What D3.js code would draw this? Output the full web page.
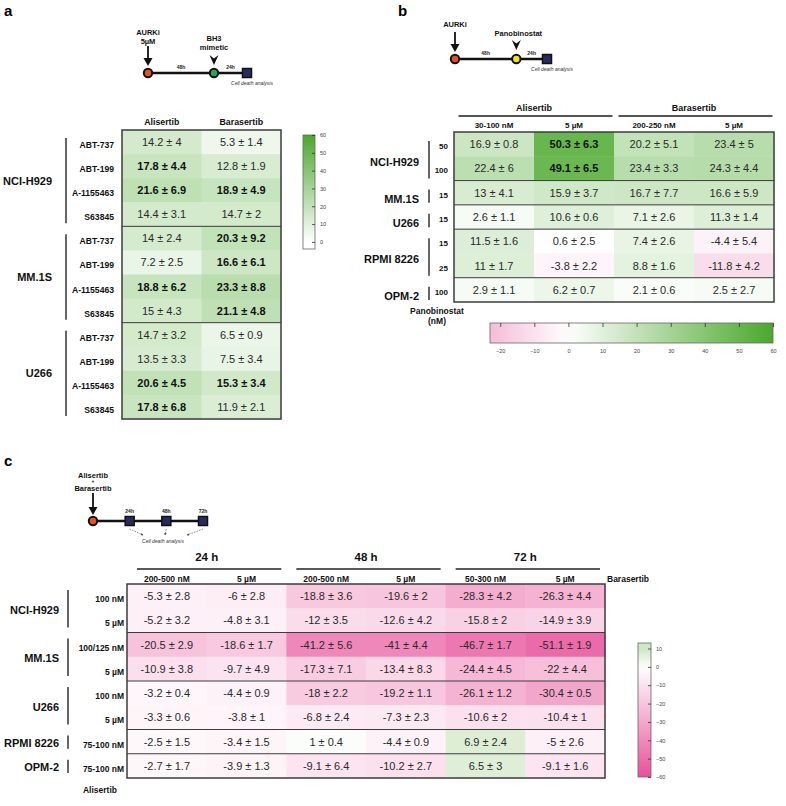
<!DOCTYPE html>
<html>
<head>
<meta charset="utf-8">
<script src="https://cdnjs.cloudflare.com/ajax/libs/d3/7.8.5/d3.min.js"></script>
<style>
body{margin:0;background:#fff;}
svg{display:block;font-family:"Liberation Sans",Arial,sans-serif;}
</style>
</head>
<body>
<div id="chart"></div>
<script>
'use strict';
// ---- panel a : AURKi 48h then BH3 mimetic 24h ----
var aCellLines = ["NCI-H929", "MM.1S", "U266"];
var aRowGroup = [0,0,0,0, 1,1,1,1, 2,2,2,2];
var aRowLabels = ["ABT-737","ABT-199","A-1155463","S63845",
                  "ABT-737","ABT-199","A-1155463","S63845",
                  "ABT-737","ABT-199","A-1155463","S63845"];
var aColumns = ["Alisertib", "Barasertib"];
var aMean = [
    [14.2, 5.3], [17.8, 12.8], [21.6, 18.9], [14.4, 14.7],
    [14, 20.3], [7.2, 16.6], [18.8, 23.3], [15, 21.1],
    [14.7, 6.5], [13.5, 7.5], [20.6, 15.3], [17.8, 11.9]
];
var aSd = [
    [4, 1.4], [4.4, 1.9], [6.9, 4.9], [3.1, 2],
    [2.4, 9.2], [2.5, 6.1], [6.2, 8.8], [4.3, 4.8],
    [3.2, 0.9], [3.3, 3.4], [4.5, 3.4], [6.8, 2.1]
];
var aBold = [[1,0],[2,0],[2,1],[4,1],[5,1],[6,0],[6,1],[7,1],[10,0],[10,1],[11,0]];
var aBarTicks = [0,10,20,30,40,50,60];
var aTimeline = [0, 48, 72];
var aSegmentLabels = ["48h", "24h"];

// ---- panel b : AURKi 48h then panobinostat 24h ----
var bCellLines = ["NCI-H929", "MM.1S", "U266", "RPMI 8226", "OPM-2"];
var bRowGroup = [0,0,1,2,3,3,4];
var bRowLabels = ["50","100","15","15","15","25","100"];
var bDrugs = ["Alisertib", "Barasertib"];
var bDoses = ["30-100 nM", "5 \u00b5M", "200-250 nM", "5 \u00b5M"];
var bMean = [
    [16.9, 50.3, 20.2, 23.4],
    [22.4, 49.1, 23.4, 24.3],
    [13, 15.9, 16.7, 16.6],
    [2.6, 10.6, 7.1, 11.3],
    [11.5, 0.6, 7.4, -4.4],
    [11, -3.8, 8.8, -11.8],
    [2.9, 6.2, 2.1, 2.5]
];
var bSd = [
    [0.8, 6.3, 5.1, 5],
    [6, 6.5, 3.3, 4.4],
    [4.1, 3.7, 7.7, 5.9],
    [1.1, 0.6, 2.6, 1.4],
    [1.6, 2.5, 2.6, 5.4],
    [1.7, 2.2, 1.6, 4.2],
    [1.1, 0.7, 0.6, 2.7]
];
var bBold = [[0,1],[1,1]];
var bBarTicks = [-20,-10,0,10,20,30,40,50,60];
var bTimeline = [0, 48, 72];
var bSegmentLabels = ["48h", "24h"];

// ---- panel c : alisertib + barasertib, 24/48/72h ----
var cCellLines = ["NCI-H929", "MM.1S", "U266", "RPMI 8226", "OPM-2"];
var cRowGroup = [0,0,1,1,2,2,3,4];
var cRowLabels = ["100 nM","5 \u00b5M","100/125 nM","5 \u00b5M","100 nM","5 \u00b5M","75-100 nM","75-100 nM"];
var cTimes = ["24 h", "48 h", "72 h"];
var cDoses = ["200-500 nM", "5 \u00b5M", "200-500 nM", "5 \u00b5M", "50-300 nM", "5 \u00b5M"];
var cMean = [
    [-5.3, -6, -18.8, -19.6, -28.3, -26.3],
    [-5.2, -4.8, -12, -12.6, -15.8, -14.9],
    [-20.5, -18.6, -41.2, -41, -46.7, -51.1],
    [-10.9, -9.7, -17.3, -13.4, -24.4, -22],
    [-3.2, -4.4, -18, -19.2, -26.1, -30.4],
    [-3.3, -3.8, -6.8, -7.3, -10.6, -10.4],
    [-2.5, -3.4, 1, -4.4, 6.9, -5],
    [-2.7, -3.9, -9.1, -10.2, 6.5, -9.1]
];
var cSd = [
    [2.8, 2.8, 3.6, 2, 4.2, 4.4],
    [3.2, 3.1, 3.5, 4.2, 2, 3.9],
    [2.9, 1.7, 5.6, 4.4, 1.7, 1.9],
    [3.8, 4.9, 7.1, 8.3, 4.5, 4.4],
    [0.4, 0.9, 2.2, 1.1, 1.2, 0.5],
    [0.6, 1, 2.4, 2.3, 2, 1],
    [1.5, 1.5, 0.4, 0.9, 2.4, 2.6],
    [1.7, 1.3, 6.4, 2.7, 3, 1.6]
];
var cBarTicks = [10,0,-10,-20,-30,-40,-50,-60];
var cTimeline = [0, 24, 48, 72];
var cPointLabels = ["24h", "48h", "72h"];

var green = "#4aa82c", pink = "#e8509a";
var aColor = d3.scaleLinear().domain([0, 60]).range(["#ffffff", green]).clamp(true);
var bColor = d3.scaleLinear().domain([-60, 0, 60]).range([pink, "#ffffff", green]).clamp(true);
var cColor = d3.scaleLinear().domain([-60, 0, 10]).range([pink, "#ffffff", "#cde6c2"]).clamp(true);

var svg = d3.select("#chart").append("svg")
    .attr("width", 786)
    .attr("height", 806);

function addText(g, x, y, txt, size, weight, anchor, fill, style){
    return g.append("text")
        .attr("x", x).attr("y", y)
        .attr("text-anchor", anchor || "middle")
        .style("font-size", size + "px")
        .style("font-weight", weight || "normal")
        .style("font-style", style || "normal")
        .attr("fill", fill || "#111")
        .text(txt);
}

function isBold(list, r, c){
    return list.some(function(p){ return p[0] === r && p[1] === c; });
}

function drawTable(g, o){
    var nRows = o.mean.length, nCols = o.mean[0].length;
    var x = d3.scaleBand().domain(d3.range(nCols)).range([o.left, o.right]);
    var y = d3.scaleBand().domain(d3.range(nRows)).range([o.top, o.bottom]);
    var cells = [];
    o.mean.forEach(function(row, i){
        row.forEach(function(m, j){
            cells.push({r: i, c: j, m: m, s: o.sd[i][j], b: isBold(o.bold, i, j)});
        });
    });
    g.selectAll(null).data(cells).enter().append("rect")
        .attr("x", function(d){ return x(d.c); })
        .attr("y", function(d){ return y(d.r); })
        .attr("width", x.bandwidth() + 0.5)
        .attr("height", y.bandwidth() + 0.5)
        .attr("fill", function(d){ return o.color(d.m); });
    g.selectAll(null).data(cells).enter().append("text")
        .attr("x", function(d){ return x(d.c) + x.bandwidth() / 2; })
        .attr("y", function(d){ return y(d.r) + y.bandwidth() / 2 + 4; })
        .attr("text-anchor", "middle")
        .style("font-size", "11px")
        .style("font-weight", function(d){ return d.b ? "bold" : "normal"; })
        .attr("fill", function(d){ return d.b ? "#111" : "#2a2a2a"; })
        .text(function(d){ return d.m + " \u00b1 " + d.s; });

    // lines between cell lines
    var seps = d3.range(1, nRows).filter(function(i){ return o.rowGroup[i] !== o.rowGroup[i - 1]; });
    g.selectAll(null).data(seps).enter().append("line")
        .attr("x1", o.left).attr("x2", o.right)
        .attr("y1", function(i){ return y(i); })
        .attr("y2", function(i){ return y(i); })
        .attr("stroke", "#3c3c3c").attr("stroke-width", 1);
    g.append("rect")
        .attr("x", o.left).attr("y", o.top)
        .attr("width", o.right - o.left).attr("height", o.bottom - o.top)
        .attr("fill", "none").attr("stroke", "#3c3c3c").attr("stroke-width", 1.5);

    g.selectAll(null).data(o.rowLabels).enter().append("text")
        .attr("x", o.rowLabelX)
        .attr("y", function(d, i){ return y(i) + y.bandwidth() / 2 + o.rowLabelDy; })
        .attr("text-anchor", "end")
        .style("font-size", o.rowLabelSize + "px")
        .style("font-weight", "bold")
        .attr("fill", "#111")
        .text(function(d){ return d; });

    var groups = o.groupNames.map(function(name, k){
        var idx = d3.range(nRows).filter(function(i){ return o.rowGroup[i] === k; });
        return {name: name, y0: y(idx[0]), y1: y(idx[idx.length - 1]) + y.bandwidth()};
    });
    g.selectAll(null).data(groups).enter().append("line")
        .attr("x1", o.bracketX).attr("x2", o.bracketX)
        .attr("y1", function(d){ return d.y0 + o.bracketIn[0]; })
        .attr("y2", function(d){ return d.y1 - o.bracketIn[1]; })
        .attr("stroke", "#333").attr("stroke-width", 1.5);
    g.selectAll(null).data(groups).enter().append("text")
        .attr("x", o.groupLabelX)
        .attr("y", function(d){ return (d.y0 + d.y1) / 2 + o.groupDy; })
        .attr("text-anchor", "end")
        .style("font-size", "11px")
        .style("font-weight", "bold")
        .attr("fill", "#111")
        .text(function(d){ return d.name; });
    return x;
}

function drawColorbar(g, o){
    var id = "grad" + o.id;
    var dom = o.scale.domain();
    var grad = svg.append("defs").append("linearGradient").attr("id", id);
    if(o.vertical){
        grad.attr("x1", 0).attr("y1", 1).attr("x2", 0).attr("y2", 0);
    }else{
        grad.attr("x1", 0).attr("y1", 0).attr("x2", 1).attr("y2", 0);
    }
    d3.range(0, 1.0001, 0.05).forEach(function(t){
        var v = dom[0] + t * (dom[1] - dom[0]);
        grad.append("stop").attr("offset", t).attr("stop-color", o.color(v));
    });
    g.append("rect")
        .attr("x", o.x).attr("y", o.y).attr("width", o.w).attr("height", o.h)
        .attr("fill", "url(#" + id + ")")
        .attr("stroke", "#666").attr("stroke-width", 0.8);
    var axis;
    if(o.vertical){
        axis = g.append("g")
            .attr("transform", "translate(" + (o.x + o.w) + ",0)")
            .call(d3.axisRight(o.scale).tickValues(o.ticks).tickSize(-3).tickPadding(5));
    }else{
        g.append("g")
            .attr("transform", "translate(0," + o.y + ")")
            .call(d3.axisTop(o.scale).tickValues(o.ticks).tickSize(-4).tickFormat(""))
            .select(".domain").remove();
        axis = g.append("g")
            .attr("transform", "translate(0," + (o.y + o.h) + ")")
            .call(d3.axisBottom(o.scale).tickValues(o.ticks).tickSize(0).tickPadding(6));
    }
    axis.select(".domain").remove();
    g.selectAll(".tick line").attr("stroke", "#333").attr("stroke-width", 0.8);
    axis.selectAll(".tick text").style("font-size", "5.5px").attr("fill", "#444")
        .style("font-family", "Liberation Sans, Arial, sans-serif");
}

function arrowDown(g, x, y0, y1){
    g.append("line").attr("x1", x).attr("x2", x).attr("y1", y0).attr("y2", y1 - 6)
        .attr("stroke", "#111").attr("stroke-width", 1.8);
    g.append("path").attr("d", "M" + (x - 4.5) + "," + (y1 - 8) + "L" + (x + 4.5) + "," + (y1 - 8) + "L" + x + "," + y1 + "Z")
        .attr("fill", "#111");
}
function chevron(g, x, y0, y1){
    g.append("path")
        .attr("d", "M" + (x - 4.5) + "," + y0 + "L" + x + "," + (y0 + 3.5) + "L" + (x + 4.5) + "," + y0 + "L" + x + "," + y1 + "Z")
        .attr("fill", "#111");
}
function marker(g, x, y, kind, fill){
    if(kind === "circle"){
        g.append("circle").attr("cx", x).attr("cy", y).attr("r", 4.2)
            .attr("fill", fill).attr("stroke", "#111").attr("stroke-width", 2);
    }else{
        g.append("rect").attr("x", x - 4.5).attr("y", y - 4.5).attr("width", 9).attr("height", 9)
            .attr("fill", "#2b2a5e").attr("stroke", "#111").attr("stroke-width", 1.5);
    }
}
function drawTwoStep(g, hours, segLabels, xs, y, midFill){
    g.append("line").attr("x1", xs(hours[0])).attr("x2", xs(hours[hours.length - 1]))
        .attr("y1", y).attr("y2", y).attr("stroke", "#111").attr("stroke-width", 2.5);
    segLabels.forEach(function(l, i){
        addText(g, (xs(hours[i]) + xs(hours[i + 1])) / 2, y - 4, l, 5, "bold", "middle", "#222");
    });
    marker(g, xs(hours[2]), y, "square");
    marker(g, xs(hours[0]), y, "circle", "#e4531f");
    marker(g, xs(hours[1]), y, "circle", midFill);
    addText(g, xs(hours[2]) + 5, y + 12, "Cell death analysis", 5, "normal", "middle", "#333", "italic");
}

// ================= panel a =================
var ga = svg.append("g");
addText(ga, 4, 16, "a", 15, "bold", "start", "#000");
var aX = d3.scaleLinear().domain([0, 72]).range([148, 247]);
drawTwoStep(ga, aTimeline, aSegmentLabels, aX, 73, "#27a35a");
addText(ga, aX(aTimeline[0]), 35, "AURKi", 7.5, "bold");
addText(ga, aX(aTimeline[0]), 44, "5\u00b5M", 7.5, "bold");
arrowDown(ga, aX(aTimeline[0]), 46, 66);
addText(ga, aX(aTimeline[1]), 41, "BH3", 7.5, "bold");
addText(ga, aX(aTimeline[1]), 50, "mimetic", 7.5, "bold");
chevron(ga, aX(aTimeline[1]), 55, 65);

var aColX = drawTable(ga, {
    left: 122, right: 281, top: 130, bottom: 419,
    mean: aMean, sd: aSd, bold: aBold, color: aColor,
    rowGroup: aRowGroup, rowLabels: aRowLabels, groupNames: aCellLines,
    rowLabelX: 114, rowLabelDy: 6, rowLabelSize: 8.6,
    bracketX: 66, bracketIn: [8, 3], groupLabelX: 52, groupDy: 6.5
});
aColumns.forEach(function(c, i){
    addText(ga, aColX(i) + aColX.bandwidth() / 2, 125, c, 8.8, "bold");
});
drawColorbar(ga, {
    id: "a", vertical: true, x: 303, y: 135, w: 12, h: 114,
    scale: d3.scaleLinear().domain([-4, 60]).range([249, 135]),
    color: aColor, ticks: aBarTicks
});

// ================= panel b =================
var gb = svg.append("g");
addText(gb, 398, 16, "b", 15, "bold", "start", "#000");
var bX = d3.scaleLinear().domain([0, 72]).range([455, 547]);
drawTwoStep(gb, bTimeline, bSegmentLabels, bX, 59, "#f2e318");
addText(gb, bX(bTimeline[0]), 27, "AURKi", 7.5, "bold");
arrowDown(gb, bX(bTimeline[0]), 32, 52);
addText(gb, bX(bTimeline[1]) + 2, 36, "Panobinostat", 7.5, "bold");
chevron(gb, bX(bTimeline[1]), 40, 50);

var bColX = drawTable(gb, {
    left: 454, right: 774, top: 132, bottom: 302,
    mean: bMean, sd: bSd, bold: bBold, color: bColor,
    rowGroup: bRowGroup, rowLabels: bRowLabels, groupNames: bCellLines,
    rowLabelX: 448, rowLabelDy: 5, rowLabelSize: 8,
    bracketX: 429, bracketIn: [9, 2], groupLabelX: 419, groupDy: 10
});
bDrugs.forEach(function(d, k){
    var x0 = bColX(k * 2), x1 = bColX(k * 2 + 1) + bColX.bandwidth();
    addText(gb, (x0 + x1) / 2, 111, d, 9, "bold");
    gb.append("line").attr("x1", x0 + 4.5).attr("x2", x1 - 1.5).attr("y1", 116).attr("y2", 116)
        .attr("stroke", "#555").attr("stroke-width", 2);
});
bDoses.forEach(function(d, i){
    addText(gb, bColX(i) + bColX.bandwidth() / 2, 128, d, 8, "bold");
});
addText(gb, 437, 314, "Panobinostat", 8.5, "bold");
addText(gb, 437, 324, "(nM)", 8.5, "bold");
drawColorbar(gb, {
    id: "b", vertical: false, x: 490, y: 323, w: 283, h: 20,
    scale: d3.scaleLinear().domain([-23, 60]).range([490, 773]),
    color: bColor, ticks: bBarTicks
});

// ================= panel c =================
var gc = svg.append("g");
addText(gc, 4, 466, "c", 15, "bold", "start", "#000");
var cX = d3.scaleLinear().domain([0, 72]).range([93, 203]);
var cY = 521;
gc.append("line").attr("x1", cX(cTimeline[0])).attr("x2", cX(cTimeline[cTimeline.length - 1]))
    .attr("y1", cY).attr("y2", cY).attr("stroke", "#111").attr("stroke-width", 2.5);
marker(gc, cX(cTimeline[0]), cY, "circle", "#e4531f");
var cTarget = {x: 163, y: 536};
gc.append("defs").append("marker").attr("id", "smallhead")
    .attr("viewBox", "0 0 6 6").attr("refX", 5).attr("refY", 3)
    .attr("markerWidth", 4).attr("markerHeight", 4).attr("orient", "auto")
    .append("path").attr("d", "M0,0L6,3L0,6Z").attr("fill", "#444");
cTimeline.slice(1).forEach(function(h, i){
    var px = cX(h);
    marker(gc, px, cY, "square");
    addText(gc, px, cY - 8, cPointLabels[i], 5, "bold", "middle", "#222");
    gc.append("line")
        .attr("x1", px).attr("y1", cY + 8)
        .attr("x2", px + (cTarget.x - px) * 0.4).attr("y2", cTarget.y - 1)
        .attr("stroke", "#444").attr("stroke-width", 0.6)
        .attr("stroke-dasharray", "1.5,1.2")
        .attr("marker-end", "url(#smallhead)");
});
addText(gc, cTarget.x, 543, "Cell death analysis", 5, "normal", "middle", "#333", "italic");
addText(gc, cX(cTimeline[0]), 477.5, "Alisertib", 7.5, "bold");
addText(gc, cX(cTimeline[0]), 483, "+", 5, "bold");
addText(gc, cX(cTimeline[0]), 491, "Barasertib", 7.5, "bold");
arrowDown(gc, cX(cTimeline[0]), 493, 515);

var cColX = drawTable(gc, {
    left: 127, right: 605, top: 584, bottom: 778,
    mean: cMean, sd: cSd, bold: [], color: cColor,
    rowGroup: cRowGroup, rowLabels: cRowLabels, groupNames: cCellLines,
    rowLabelX: 124, rowLabelDy: 6, rowLabelSize: 8.5,
    bracketX: 68, bracketIn: [6, 5], groupLabelX: 59, groupDy: 5.5
});
cTimes.forEach(function(t, k){
    var x0 = cColX(k * 2), x1 = cColX(k * 2 + 1) + cColX.bandwidth();
    addText(gc, (x0 + x1) / 2, 561, t, 11.5, "bold");
    gc.append("line").attr("x1", x0 + 10).attr("x2", x1 - 5).attr("y1", 569).attr("y2", 569)
        .attr("stroke", "#222").attr("stroke-width", 1.5);
});
cDoses.forEach(function(d, i){
    addText(gc, cColX(i) + cColX.bandwidth() / 2, 582, d, 8.5, "bold");
});
addText(gc, 607, 582, "Barasertib", 8.5, "bold", "start");
addText(gc, 100, 793, "Alisertib", 8.5, "bold");
drawColorbar(gc, {
    id: "c", vertical: true, x: 638, y: 643, w: 13, h: 134,
    scale: d3.scaleLinear().domain([-60, 13]).range([777, 643]),
    color: cColor, ticks: cBarTicks
});
</script>
</body>
</html>
